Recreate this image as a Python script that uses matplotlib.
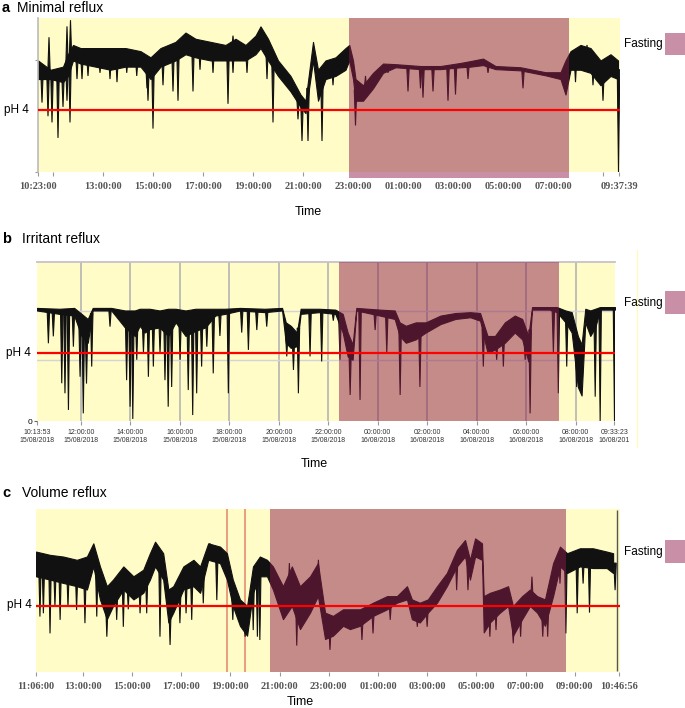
import numpy as np
import matplotlib.pyplot as plt
import matplotlib.transforms as mtransforms
from matplotlib.patches import Rectangle
from matplotlib.lines import Line2D

plt.rcParams['font.family'] = ['Liberation Sans', 'DejaVu Sans']

W, H = 685, 708
YELLOW = '#fffcc8'
FAST = '#8b1c4a'      # drawn at alpha .5 over trace
SWATCH = '#c88fa6'
RED = '#ff0000'

# ---------------- a: Minimal reflux (hours from 10:23:00) ----------------
a_start = "10:23:00"
a_t  = [0.0, 0.5, 1.0, 1.2, 1.4, 1.7, 2.3, 2.9, 3.5, 4.1, 4.5, 4.9, 5.5, 5.9, 6.3, 6.9, 7.5, 7.9, 8.3, 8.7,
        8.9, 9.2, 9.6, 10.1, 10.5, 10.7, 11.0, 11.2, 11.5, 11.9, 12.3, 12.45, 12.6, 12.7, 13.0, 13.4, 13.8, 14.3, 15.3, 16.1,
        16.9, 17.3, 17.8, 18.3, 19.3, 20.3, 20.9, 21.1, 21.3, 21.7, 22.1, 22.5, 22.9, 23.2]
a_hi = [5.6, 5.3, 5.4, 5.8, 6.1, 6.0, 6.0, 6.0, 6.0, 5.9, 5.7, 6.0, 6.2, 6.5, 6.3, 6.2, 6.1, 6.3, 6.1, 6.4,
        6.7, 6.3, 5.6, 5.1, 4.5, 4.3, 6.2, 5.3, 5.6, 5.7, 6.0, 6.1, 5.6, 5.0, 4.8, 5.2, 5.5, 5.48, 5.42, 5.42,
        5.52, 5.58, 5.66, 5.42, 5.38, 5.22, 5.22, 5.6, 5.9, 6.1, 6.0, 5.6, 5.8, 5.6]
a_lo = [5.0, 5.0, 4.9, 5.1, 5.6, 5.5, 5.4, 5.3, 5.4, 5.4, 5.0, 5.4, 5.6, 5.8, 5.7, 5.6, 5.6, 5.6, 5.6, 5.8,
        6.0, 5.6, 5.1, 4.6, 4.1, 3.9, 5.6, 4.3, 5.0, 5.1, 5.3, 5.6, 5.0, 4.3, 4.3, 4.7, 5.2, 5.38, 5.32, 5.32,
        5.38, 5.4, 5.45, 5.32, 5.28, 5.12, 5.0, 4.5, 5.3, 5.3, 5.2, 4.8, 5.1, 5.0]
a_dip_t  = [0.4, 0.56, 0.8, 1.16, 1.28, 1.76, 3.16, 4.4, 4.6, 5.6, 6.2, 7.6, 9.4, 10.4, 10.56, 10.8, 11.36,
            0.44, 1.16, 1.3, 12.7, 14.8, 15.3, 15.4, 15.8, 16.4, 16.7, 19.4, 21.1, 22.6, 23.22,
            0.16, 1.0, 1.56, 2.0, 2.48, 2.88, 3.55, 3.95, 4.36, 5.0, 5.4, 6.48, 7.0, 7.8, 8.36, 9.16,
            11.28, 11.8, 7.8, 21.5, 22.2, 22.76, 21.96, 13.1, 14.0, 17.2, 18.0]
a_dip_ph = [3.8, 3.6, 3.1, 4.3, 3.6, 5.0, 4.9, 4.3, 3.4, 4.3, 4.6, 4.2, 3.6, 3.7, 3.0, 3.0, 3.0,
            6.35, 6.7, 6.9, 3.5, 4.6, 4.7, 4.4, 4.6, 4.3, 4.5, 4.7, 4.6, 4.3, 2.0,
            4.24, 4.1, 5.0, 5.1, 5.2, 5.0, 5.2, 5.1, 4.7, 4.8, 4.6, 5.3, 5.2, 5.2, 5.2, 5.0,
            4.76, 4.8, 6.4, 4.9, 4.8, 5.0, 6.1, 5.1, 5.2, 5.0, 5.2]
a_fast = (12.44, 21.24)
a_clock = ["10:23:00", "11:00:00", "13:00:00", "15:00:00", "17:00:00", "19:00:00", "21:00:00", "23:00:00",
           "01:00:00", "03:00:00", "05:00:00", "07:00:00", "09:00:00", "09:37:39"]
a_show = [1, 0, 1, 1, 1, 1, 1, 1, 1, 1, 1, 1, 0, 1]

# ---------------- b: Irritant reflux (hours from 10:13:53) ----------------
b_start = "10:13:53"
b_t  = [0, 0.9, 1.5, 1.8, 2.05, 2.25, 3.0, 3.55, 3.95, 4.15, 4.35, 4.55, 4.95, 5.3, 5.6, 6.0, 6.4, 6.8, 7.2, 7.6,
        8.2, 9.2, 9.9, 10.05, 10.25, 10.5, 10.65, 11.4, 12.05, 12.35, 12.55, 12.75, 12.9, 13.85, 14.45, 14.65,
        14.9, 15.3, 15.7, 16.3, 16.9, 17.5, 17.9, 18.2, 18.5, 18.9, 19.3, 19.6, 19.85, 20.0, 20.7, 21.0, 21.35,
        21.6, 21.85, 22.0, 22.15, 22.35, 22.55, 22.75, 23.35]
b_hi = [6.65, 6.6, 6.65, 6.3, 6.0, 6.65, 6.65, 6.5, 6.5, 6.6, 6.6, 6.6, 6.5, 6.6, 6.6, 6.5, 6.6, 6.6, 6.6, 6.6,
        6.65, 6.6, 6.65, 5.8, 5.6, 5.2, 6.6, 6.6, 6.55, 6.3, 5.2, 4.5, 6.65, 6.55, 6.5, 5.8,
        5.6, 5.8, 5.8, 6.2, 6.35, 6.4, 6.35, 5.0, 5.0, 5.8, 6.2, 6.0, 5.0, 6.7, 6.7, 6.7, 6.5,
        6.4, 5.0, 4.5, 6.6, 6.5, 6.6, 6.7, 6.7]
b_lo = [6.5, 6.3, 6.2, 5.0, 4.6, 6.5, 6.5, 5.5, 5.0, 5.6, 5.2, 5.4, 5.5, 5.0, 5.8, 5.0, 5.3, 5.5, 6.2, 6.3,
        6.5, 6.4, 6.5, 4.6, 4.3, 4.4, 6.3, 6.4, 6.3, 5.2, 3.8, 3.6, 6.5, 6.2, 6.0, 5.0,
        4.6, 4.8, 5.2, 5.7, 6.0, 6.1, 5.9, 4.0, 4.2, 4.6, 5.2, 4.8, 3.5, 6.55, 6.55, 6.4, 5.8,
        5.2, 2.0, 1.5, 5.8, 5.0, 5.5, 6.55, 6.55]
b_dip_t  = [0.46, 0.66, 1.0, 1.13, 1.27, 1.47, 1.74, 1.87, 2.0, 2.21, 2.95, 3.62, 3.76, 3.87, 4.03, 4.3, 4.5,
            4.7, 4.97, 5.17, 5.3, 5.44, 5.78, 6.11, 6.29, 6.45, 6.65, 6.86, 7.12, 7.39, 7.73, 8.27, 8.54, 8.88,
            9.28, 10.09, 10.36, 10.56, 11.03, 11.5, 11.97, 12.24, 12.65, 13.05, 13.66, 14.13, 14.67, 15.47,
            18.03, 18.57, 18.84, 19.72, 19.92, 20.86, 21.06, 21.4, 21.8, 22.55, 22.75, 23.33]
b_dip_ph = [4.57, 4.98, 2.22, 1.63, 0.65, 4.37, 2.6, 0.45, 2.2, 3.2, 5.55, 2.4, 0.84, 0.12, 3.6, 4.0, 2.6,
            3.2, 4.0, 2.4, 0.84, 2.0, 3.6, 1.82, 0.35, 1.63, 3.2, 4.37, 2.8, 5.0, 1.63, 5.2, 4.18, 5.35,
            5.55, 3.8, 3.0, 1.63, 3.8, 3.5, 5.9, 3.6, 1.53, 1.24, 5.35, 4.0, 1.53, 2.0,
            3.2, 3.6, 3.2, 3.6, 0.45, 4.0, 1.63, 3.2, 2.0, 1.43, 0.0, 0.0]
b_fast = (12.2, 21.09)
b_clock = ["10:13:53", "12:00:00", "14:00:00", "16:00:00", "18:00:00", "20:00:00", "22:00:00",
           "00:00:00", "02:00:00", "04:00:00", "06:00:00", "08:00:00", "09:33:23"]
b_dates = ["15/08/2018"] * 7 + ["16/08/2018"] * 5 + ["16/08/201"]

# ---------------- c: Volume reflux (hours from 11:06:00) ----------------
c_start = "11:06:00"
c_t  = [0, 0.57, 1.1, 1.66, 2.07, 2.33, 2.6, 2.88, 3.13, 3.55, 3.96, 4.36, 4.63, 4.84, 5.17, 5.38, 5.58, 5.99,
        6.4, 6.67, 7.0, 7.48, 7.76, 8.0, 8.29, 8.58, 8.82, 9.1, 9.39, 9.63, 10.04, 10.4, 10.73, 11.14, 11.46,
        11.75, 12.07, 12.48, 12.76, 13.17, 13.7, 14.27, 14.67, 15.08, 15.28, 15.6, 15.93, 16.3, 16.7, 17.11,
        17.44, 17.64, 17.85, 18.13, 18.2, 18.45, 18.86, 19.19, 19.39, 19.76, 20.08, 20.37, 20.69, 21.02, 21.3,
        21.59, 22.11, 22.64, 23.2, 23.46]
c_hi = [5.65, 5.55, 5.5, 5.4, 5.5, 5.9, 5.2, 4.6, 4.8, 5.2, 4.9, 5.1, 5.6, 5.95, 5.6, 4.5, 4.6, 5.2,
        5.4, 5.2, 5.9, 5.8, 5.6, 4.8, 4.2, 4.0, 5.2, 5.5, 5.4, 5.2, 4.6, 5.2, 4.6, 4.9, 5.3,
        3.8, 3.7, 3.9, 3.9, 3.9, 4.1, 4.3, 4.3, 4.6, 4.2, 4.1, 4.2, 4.6, 5.0, 5.7,
        6.0, 5.4, 6.05, 5.9, 4.3, 4.4, 4.5, 4.6, 4.0, 4.3, 4.5, 4.3, 4.2, 5.3, 5.8,
        5.6, 5.75, 5.75, 5.65, 5.6]
c_lo = [4.9, 4.8, 4.7, 4.6, 4.5, 5.2, 4.2, 3.6, 4.0, 4.5, 4.2, 4.4, 4.8, 5.2, 4.8, 3.5, 3.8, 4.5,
        4.6, 4.4, 5.4, 5.3, 4.8, 4.0, 3.4, 3.1, 4.4, 4.9, 4.9, 4.5, 3.6, 4.0, 3.3, 3.8, 4.3,
        3.0, 3.1, 3.4, 3.3, 3.4, 3.7, 3.9, 4.1, 4.2, 3.6, 3.5, 3.8, 4.1, 4.6, 5.2,
        5.5, 4.8, 5.5, 5.4, 3.2, 3.5, 3.8, 4.0, 3.1, 3.6, 4.0, 3.8, 3.4, 4.3, 5.2,
        5.0, 5.2, 5.15, 5.15, 5.0]
c_dip_t  = [0.16, 0.57, 0.98, 1.3, 1.99, 2.88, 3.75, 4.23, 5.45, 6.1, 8.5, 9.0, 10.6, 11.95, 13.25, 15.9,
            17.56, 18.45, 19.4, 20.16, 20.8, 21.54, 22.0, 22.5, 23.54,
            0.3, 0.77, 1.65, 2.47, 3.28, 3.55, 4.5, 5.04, 5.85, 6.33, 6.8, 7.35, 8.0, 8.83, 9.1,
            7.07, 11.48, 10.3, 13.7, 14.4, 15.5, 17.1, 18.7, 19.7, 20.6, 21.3, 22.24]
c_dip_ph = [3.68, 3.17, 3.58, 3.98, 3.48, 3.07, 3.9, 3.78, 2.82, 3.78, 3.07, 3.07, 2.8, 2.67, 2.97, 3.37,
            4.48, 3.07, 2.87, 4.89, 3.07, 3.17, 3.78, 3.8, 4.48,
            3.78, 3.98, 3.88, 3.68, 3.58, 3.37, 3.78, 3.07, 3.48, 3.58, 4.08, 4.18, 3.58, 3.27, 2.97,
            5.9, 5.4, 5.3, 3.17, 3.58, 3.37, 4.48, 3.27, 3.07, 3.07, 4.68, 4.68]
c_fast = (9.51, 21.54)
c_marks = [7.76, 8.5]
c_end = 23.62
c_clock = ["11:06:00", "13:00:00", "15:00:00", "17:00:00", "19:00:00", "21:00:00", "23:00:00",
           "01:00:00", "03:00:00", "05:00:00", "07:00:00", "09:00:00", "10:46:56"]


def hrs(start, clock):
    h0, m0, s0 = map(int, start.split(':'))
    h, m, s = map(int, clock.split(':'))
    d = (h * 3600 + m * 60 + s) - (h0 * 3600 + m0 * 60 + s0)
    if d < 0:
        d += 86400
    return d / 3600


def px_axes(x0, x1, y0, y1):
    return fig.add_axes([x0 / W, 1 - y1 / H, (x1 - x0) / W, (y1 - y0) / H])


def draw_trace(ax, t, hi, lo, dt, dv, w=0.05):
    t, hi, lo = np.asarray(t), np.asarray(hi), np.asarray(lo)
    ax.fill_between(t, lo, hi, color='#111111', lw=0.8, zorder=2)
    base = np.interp(dt, t, (hi + lo) / 2)
    for x0, b, v in zip(dt, base, dv):
        ax.fill([x0 - w, x0, x0 + w], [b, v, b], color='#111111', lw=0.8, zorder=2)


def fasting_key(y, y0, y1):
    fig.text(624 / W, 1 - y / H, 'Fasting', fontsize=8.5, va='center', ha='left')
    fig.add_artist(Rectangle((665 / W, 1 - y1 / H), 20 / W, (y1 - y0) / H,
                             transform=fig.transFigure, color=SWATCH, lw=0))


def panel_title(y, letter, name):
    fig.text(2 / W, 1 - y / H, letter, fontsize=10.5, weight='bold', va='center')
    fig.text(17 / W if letter == 'a' else 22 / W, 1 - y / H, name, fontsize=10, va='center')


serif = dict(family='Liberation Serif', weight='bold', size=7.5, color='#555555')

fig = plt.figure(figsize=(W / 100, H / 100), dpi=100)

# ---------------- panel a ----------------
ax = px_axes(38, 620, 18, 172)
ax.set_facecolor(YELLOW)
ax.set_xlim(0, 23.28)
ax.set_ylim(2, 6.97)
draw_trace(ax, a_t, a_hi, a_lo, a_dip_t, a_dip_ph)
ax.axvspan(*a_fast, color=FAST, alpha=0.5, lw=0, zorder=3)
ax.add_patch(Rectangle((a_fast[0], -0.04), a_fast[1] - a_fast[0], 0.04,
                       transform=mtransforms.blended_transform_factory(ax.transData, ax.transAxes),
                       color=SWATCH, lw=0, clip_on=False, zorder=3))
ax.axhline(4, color=RED, lw=1.6, zorder=5)
pos = [hrs(a_start, c) for c in a_clock]
ax.set_xticks(pos, [c if s else '' for c, s in zip(a_clock, a_show)])
for lab in ax.get_xticklabels():
    lab.set_fontproperties(None)
    lab.set(**serif)
ax.tick_params(axis='x', length=3, width=0.8, color='#999999', pad=4)
ax.set_yticks([2.0, 5.6], ['', ''])
ax.tick_params(axis='y', length=2, width=0.8, color='#999999')
for s in ['top', 'right', 'bottom']:
    ax.spines[s].set_visible(False)
ax.spines['left'].set_color('#bbbbbb')
ax.spines['left'].set_linewidth(1.2)
fig.text(29 / W, 1 - 110 / H, 'pH 4', fontsize=8.5, ha='right', va='center')
fig.text(308 / W, 1 - 212 / H, 'Time', fontsize=9, ha='center', va='center')
panel_title(8, 'a', 'Minimal reflux')
fasting_key(44, 33, 55)

# ---------------- panel b ----------------
ax = px_axes(37, 615, 262, 421)
ax.set_facecolor(YELLOW)
ax.set_xlim(0, 23.35)
ax.set_ylim(0, 9.35)
pos = [hrs(b_start, c) for c in b_clock]
ax.vlines(pos[1:-1], 0, 9.35, color='#b4b4b4', lw=1.2, zorder=1)
ax.axhline(6.45, color='#d6d3d6', lw=1, zorder=1.5)
ax.axhline(3.6, color='#d6d3d6', lw=1, zorder=1.5)
draw_trace(ax, b_t, b_hi, b_lo, b_dip_t, b_dip_ph, w=0.05)
ax.axvspan(*b_fast, color=FAST, alpha=0.5, lw=0, zorder=3)
ax.axhline(4, color=RED, lw=1.6, zorder=5)
ax.set_xticks(pos, [f"{c}\n{d}" for c, d in zip(b_clock, b_dates)], fontsize=5, color='#333333',
              linespacing=1.15)
ax.tick_params(axis='x', length=3, width=0.8, color='#999999', pad=3)
ax.set_yticks([0], ['0'])
ax.tick_params(axis='y', length=2, width=0.8, color='#666666', labelsize=6, pad=1)
for s in ['left', 'right', 'bottom']:
    ax.spines[s].set_visible(False)
ax.spines['top'].set_color('#c6c2cc')
ax.spines['top'].set_linewidth(1.3)
fig.add_artist(Line2D([637 / W, 637 / W], [1 - 250 / H, 1 - 447 / H], transform=fig.transFigure,
                      color='#fffbc0', lw=1))
fig.text(31 / W, 1 - 353 / H, 'pH 4', fontsize=8.5, ha='right', va='center')
fig.text(314 / W, 1 - 464 / H, 'Time', fontsize=9, ha='center', va='center')
panel_title(239, 'b', 'Irritant reflux')
fasting_key(303, 291, 314)

# ---------------- panel c ----------------
ax = px_axes(36, 620, 509, 672)
ax.set_facecolor(YELLOW)
ax.set_xlim(0, 23.74)
ax.set_ylim(2, 6.94)
ax.vlines(c_marks, 2, 6.94, color='#e8957c', lw=1.3, zorder=1.5)
draw_trace(ax, c_t, c_hi, c_lo, c_dip_t, c_dip_ph)
ax.vlines([c_end], 2.03, 6.9, color='#555555', lw=1.0, zorder=2)
ax.axvspan(*c_fast, color=FAST, alpha=0.5, lw=0, zorder=3)
ax.axhline(4, color=RED, lw=1.6, zorder=5)
pos = [hrs(c_start, c) for c in c_clock]
ax.set_xticks(pos, c_clock)
for lab in ax.get_xticklabels():
    lab.set_fontproperties(None)
    lab.set(**serif)
ax.tick_params(axis='x', length=3, width=0.8, color='#999999', pad=4)
ax.set_yticks([])
for s in ['top', 'right', 'bottom', 'left']:
    ax.spines[s].set_visible(False)
fig.text(32 / W, 1 - 605 / H, 'pH 4', fontsize=8.5, ha='right', va='center')
fig.text(300 / W, 1 - 702 / H, 'Time', fontsize=9, ha='center', va='center')
panel_title(493, 'c', 'Volume reflux')
fasting_key(552, 540, 563)

fig.savefig('out.png', dpi=100)
